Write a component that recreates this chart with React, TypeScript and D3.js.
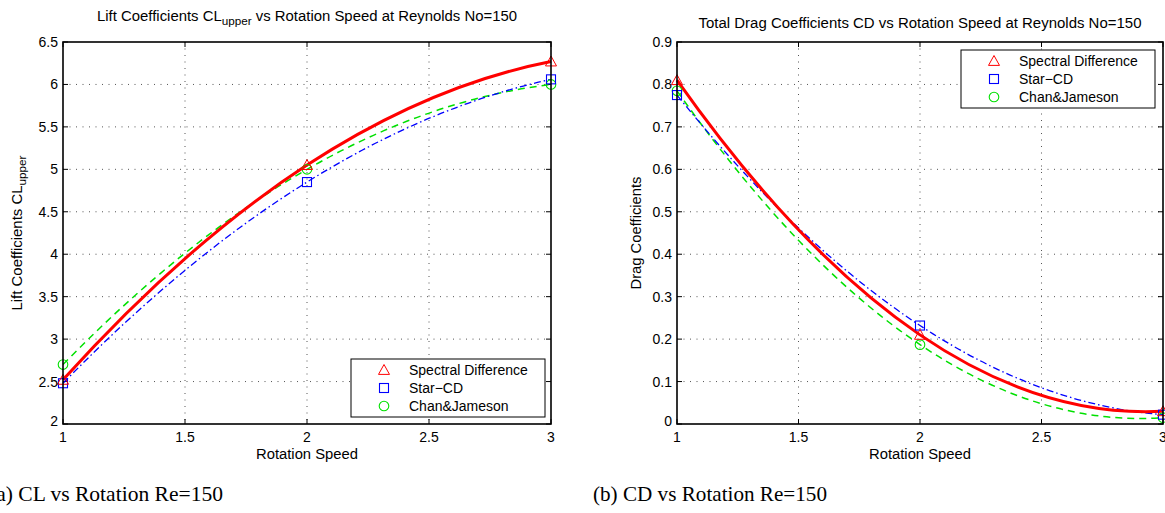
import React from "react";
import * as d3 from "d3";

const xTicks = [1, 1.5, 2, 2.5, 3];
const xTickLabels = ["1", "1.5", "2", "2.5", "3"];
const rotation = [1, 2, 3];

const liftTicks = [2, 2.5, 3, 3.5, 4, 4.5, 5, 5.5, 6, 6.5];
const liftTickLabels = ["2", "2.5", "3", "3.5", "4", "4.5", "5", "5.5", "6", "6.5"];
const liftSpectral = [2.52, 5.05, 6.27];
const liftStarCD = [2.48, 4.85, 6.06];
const liftChan = [2.7, 5.0, 6.0];

const dragTicks = [0, 0.1, 0.2, 0.3, 0.4, 0.5, 0.6, 0.7, 0.8, 0.9];
const dragTickLabels = ["0", "0.1", "0.2", "0.3", "0.4", "0.5", "0.6", "0.7", "0.8", "0.9"];
const dragSpectral = [0.81, 0.21, 0.03];
const dragStarCD = [0.775, 0.232, 0.022];
const dragChan = [0.785, 0.187, 0.015];

const seriesNames = ["Spectral Difference", "Star\u2212CD", "Chan&Jameson"];

const FONT = "'Liberation Sans', Arial, Helvetica, sans-serif";

type Style = { color: string; width: number; dash?: string; marker: "tri" | "sq" | "circ" };
const styles: Style[] = [
  { color: "#ff0000", width: 3, marker: "tri" },
  { color: "#0000ff", width: 1.3, dash: "7,3,1.5,3", marker: "sq" },
  { color: "#00e000", width: 1.5, dash: "7,5", marker: "circ" },
];

function quadPath(xs: number[], ys: number[], sx: (v: number) => number, sy: (v: number) => number) {
  const [x0, x1, x2] = xs;
  const [y0, y1, y2] = ys;
  const p = (x: number) =>
    (y0 * (x - x1) * (x - x2)) / ((x0 - x1) * (x0 - x2)) +
    (y1 * (x - x0) * (x - x2)) / ((x1 - x0) * (x1 - x2)) +
    (y2 * (x - x0) * (x - x1)) / ((x2 - x0) * (x2 - x1));
  const dp = (x: number) =>
    (y0 * (2 * x - x1 - x2)) / ((x0 - x1) * (x0 - x2)) +
    (y1 * (2 * x - x0 - x2)) / ((x1 - x0) * (x1 - x2)) +
    (y2 * (2 * x - x0 - x1)) / ((x2 - x0) * (x2 - x1));
  const path = d3.path();
  path.moveTo(sx(x0), sy(p(x0)));
  for (const [a, b] of [[x0, x1], [x1, x2]]) {
    const cx = (a + b) / 2;
    const cy = p(a) + dp(a) * (b - a) / 2;
    path.quadraticCurveTo(sx(cx), sy(cy), sx(b), sy(p(b)));
  }
  return path.toString();
}

function Marker({ kind, x, y, color }: { kind: string; x: number; y: number; color: string }) {
  if (kind === "tri") {
    const s = 5.5;
    return (
      <polygon
        points={`${x},${y - s} ${x - s},${y + s * 0.8} ${x + s},${y + s * 0.8}`}
        fill="none"
        stroke={color}
        strokeWidth={1}
      />
    );
  }
  if (kind === "sq") {
    return <rect x={x - 4.5} y={y - 4.5} width={9} height={9} fill="none" stroke={color} strokeWidth={1.1} />;
  }
  return <circle cx={x} cy={y} r={4.8} fill="none" stroke={color} strokeWidth={1.1} />;
}

type PanelProps = {
  left: number;
  right: number;
  top: number;
  bottom: number;
  yDomain: [number, number];
  yTicks: number[];
  yTickLabels: string[];
  series: number[][];
  title: React.ReactNode;
  titleY: number;
  titleLen: number;
  ylabel: React.ReactNode;
  ylabelX: number;
  ylabelLen: number;
  legend: { x: number; y: number };
};

function Panel(p: PanelProps) {
  const sx = d3.scaleLinear().domain([1, 3]).range([p.left, p.right]);
  const sy = d3.scaleLinear().domain(p.yDomain).range([p.bottom, p.top]);
  const cx = (p.left + p.right) / 2;
  const cy = (p.top + p.bottom) / 2;
  const tk = 5;
  const lw = 194;
  const lh = 58;
  return (
    <g>
      {xTicks.slice(1, -1).map((t) => (
        <line key={"gx" + t} x1={sx(t)} x2={sx(t)} y1={p.top} y2={p.bottom} stroke="#555" strokeWidth={1} strokeDasharray="1,5.5" />
      ))}
      {p.yTicks.slice(1, -1).map((t) => (
        <line key={"gy" + t} x1={p.left} x2={p.right} y1={sy(t)} y2={sy(t)} stroke="#555" strokeWidth={1} strokeDasharray="1,5.5" />
      ))}
      {xTicks.map((t) => (
        <g key={"tx" + t}>
          <line x1={sx(t)} x2={sx(t)} y1={p.bottom} y2={p.bottom - tk} stroke="#000" />
          <line x1={sx(t)} x2={sx(t)} y1={p.top} y2={p.top + tk} stroke="#000" />
        </g>
      ))}
      {p.yTicks.map((t) => (
        <g key={"ty" + t}>
          <line x1={p.left} x2={p.left + tk} y1={sy(t)} y2={sy(t)} stroke="#000" />
          <line x1={p.right} x2={p.right - tk} y1={sy(t)} y2={sy(t)} stroke="#000" />
        </g>
      ))}
      {[2, 1, 0].map((i) => (
        <path
          key={"l" + i}
          d={quadPath(rotation, p.series[i], sx, sy)}
          fill="none"
          stroke={styles[i].color}
          strokeWidth={styles[i].width}
          strokeDasharray={styles[i].dash}
        />
      ))}
      {[2, 1, 0].map((i) =>
        rotation.map((r, j) => (
          <Marker key={"m" + i + "-" + j} kind={styles[i].marker} x={sx(r)} y={sy(p.series[i][j])} color={styles[i].color} />
        ))
      )}
      <rect x={p.left} y={p.top} width={p.right - p.left} height={p.bottom - p.top} fill="none" stroke="#000" strokeWidth={1.6} />
      {xTicks.map((t, i) => (
        <text key={"xl" + t} x={sx(t)} y={p.bottom + 18} textAnchor="middle" fontFamily={FONT} fontSize={14}>
          {xTickLabels[i]}
        </text>
      ))}
      {p.yTicks.map((t, i) => (
        <text key={"yl" + t} x={p.left - 5} y={sy(t) + 5 - (i === 0 ? 3 : 0)} textAnchor="end" fontFamily={FONT} fontSize={14}>
          {p.yTickLabels[i]}
        </text>
      ))}
      <text x={cx} y={p.bottom + 35} textAnchor="middle" fontFamily={FONT} fontSize={14} textLength={102} lengthAdjust="spacingAndGlyphs">
        Rotation Speed
      </text>
      <text x={cx} y={p.titleY} textAnchor="middle" fontFamily={FONT} fontSize={14} textLength={p.titleLen} lengthAdjust="spacingAndGlyphs">
        {p.title}
      </text>
      <text
        transform={`translate(${p.ylabelX},${cy}) rotate(-90)`}
        textAnchor="middle"
        fontFamily={FONT}
        fontSize={14}
        textLength={p.ylabelLen}
        lengthAdjust="spacingAndGlyphs"
      >
        {p.ylabel}
      </text>
      <rect x={p.legend.x} y={p.legend.y} width={lw} height={lh} fill="#fff" stroke="#000" strokeWidth={1} />
      {seriesNames.map((n, i) => (
        <g key={"lg" + i}>
          <Marker kind={styles[i].marker} x={p.legend.x + 33} y={p.legend.y + 11 + i * 18} color={styles[i].color} />
          <text x={p.legend.x + 58} y={p.legend.y + 16 + i * 18} fontFamily={FONT} fontSize={14}>
            {n}
          </text>
        </g>
      ))}
    </g>
  );
}

export default function App() {
  const top = 42;
  const bottom = 424;
  return (
    <svg width={1165} height={513} style={{ position: "absolute", left: 0, top: 0, background: "#fff" }}>
      <rect width={1165} height={513} fill="#fff" />
      <Panel
        left={63}
        right={551}
        top={top}
        bottom={bottom}
        yDomain={[2, 6.5]}
        yTicks={liftTicks}
        yTickLabels={liftTickLabels}
        series={[liftSpectral, liftStarCD, liftChan]}
        title={
          <>
            Lift Coefficients CL<tspan dy={4} fontSize={11}>upper</tspan>
            <tspan dy={-4}> vs Rotation Speed at Reynolds No=150</tspan>
          </>
        }
        titleY={21}
        titleLen={420}
        ylabel={
          <>
            Lift Coefficients CL<tspan dy={4} fontSize={11}>upper</tspan>
          </>
        }
        ylabelX={22}
        ylabelLen={155}
        legend={{ x: 351, y: 359 }}
      />
      <Panel
        left={677}
        right={1163}
        top={top}
        bottom={bottom}
        yDomain={[0, 0.9]}
        yTicks={dragTicks}
        yTickLabels={dragTickLabels}
        series={[dragSpectral, dragStarCD, dragChan]}
        title="Total Drag Coefficients CD vs Rotation Speed at Reynolds No=150"
        titleY={28}
        titleLen={443}
        ylabel="Drag Coefficients"
        ylabelX={641}
        ylabelLen={113}
        legend={{ x: 961, y: 50 }}
      />
      <text x={-11} y={501} fontFamily="'Liberation Serif', 'DejaVu Serif', serif" fontSize={22} textLength={234} lengthAdjust="spacingAndGlyphs">
        (a) CL vs Rotation Re=150
      </text>
      <text x={593} y={501} fontFamily="'Liberation Serif', 'DejaVu Serif', serif" fontSize={22} textLength={234} lengthAdjust="spacingAndGlyphs">
        (b) CD vs Rotation Re=150
      </text>
    </svg>
  );
}
